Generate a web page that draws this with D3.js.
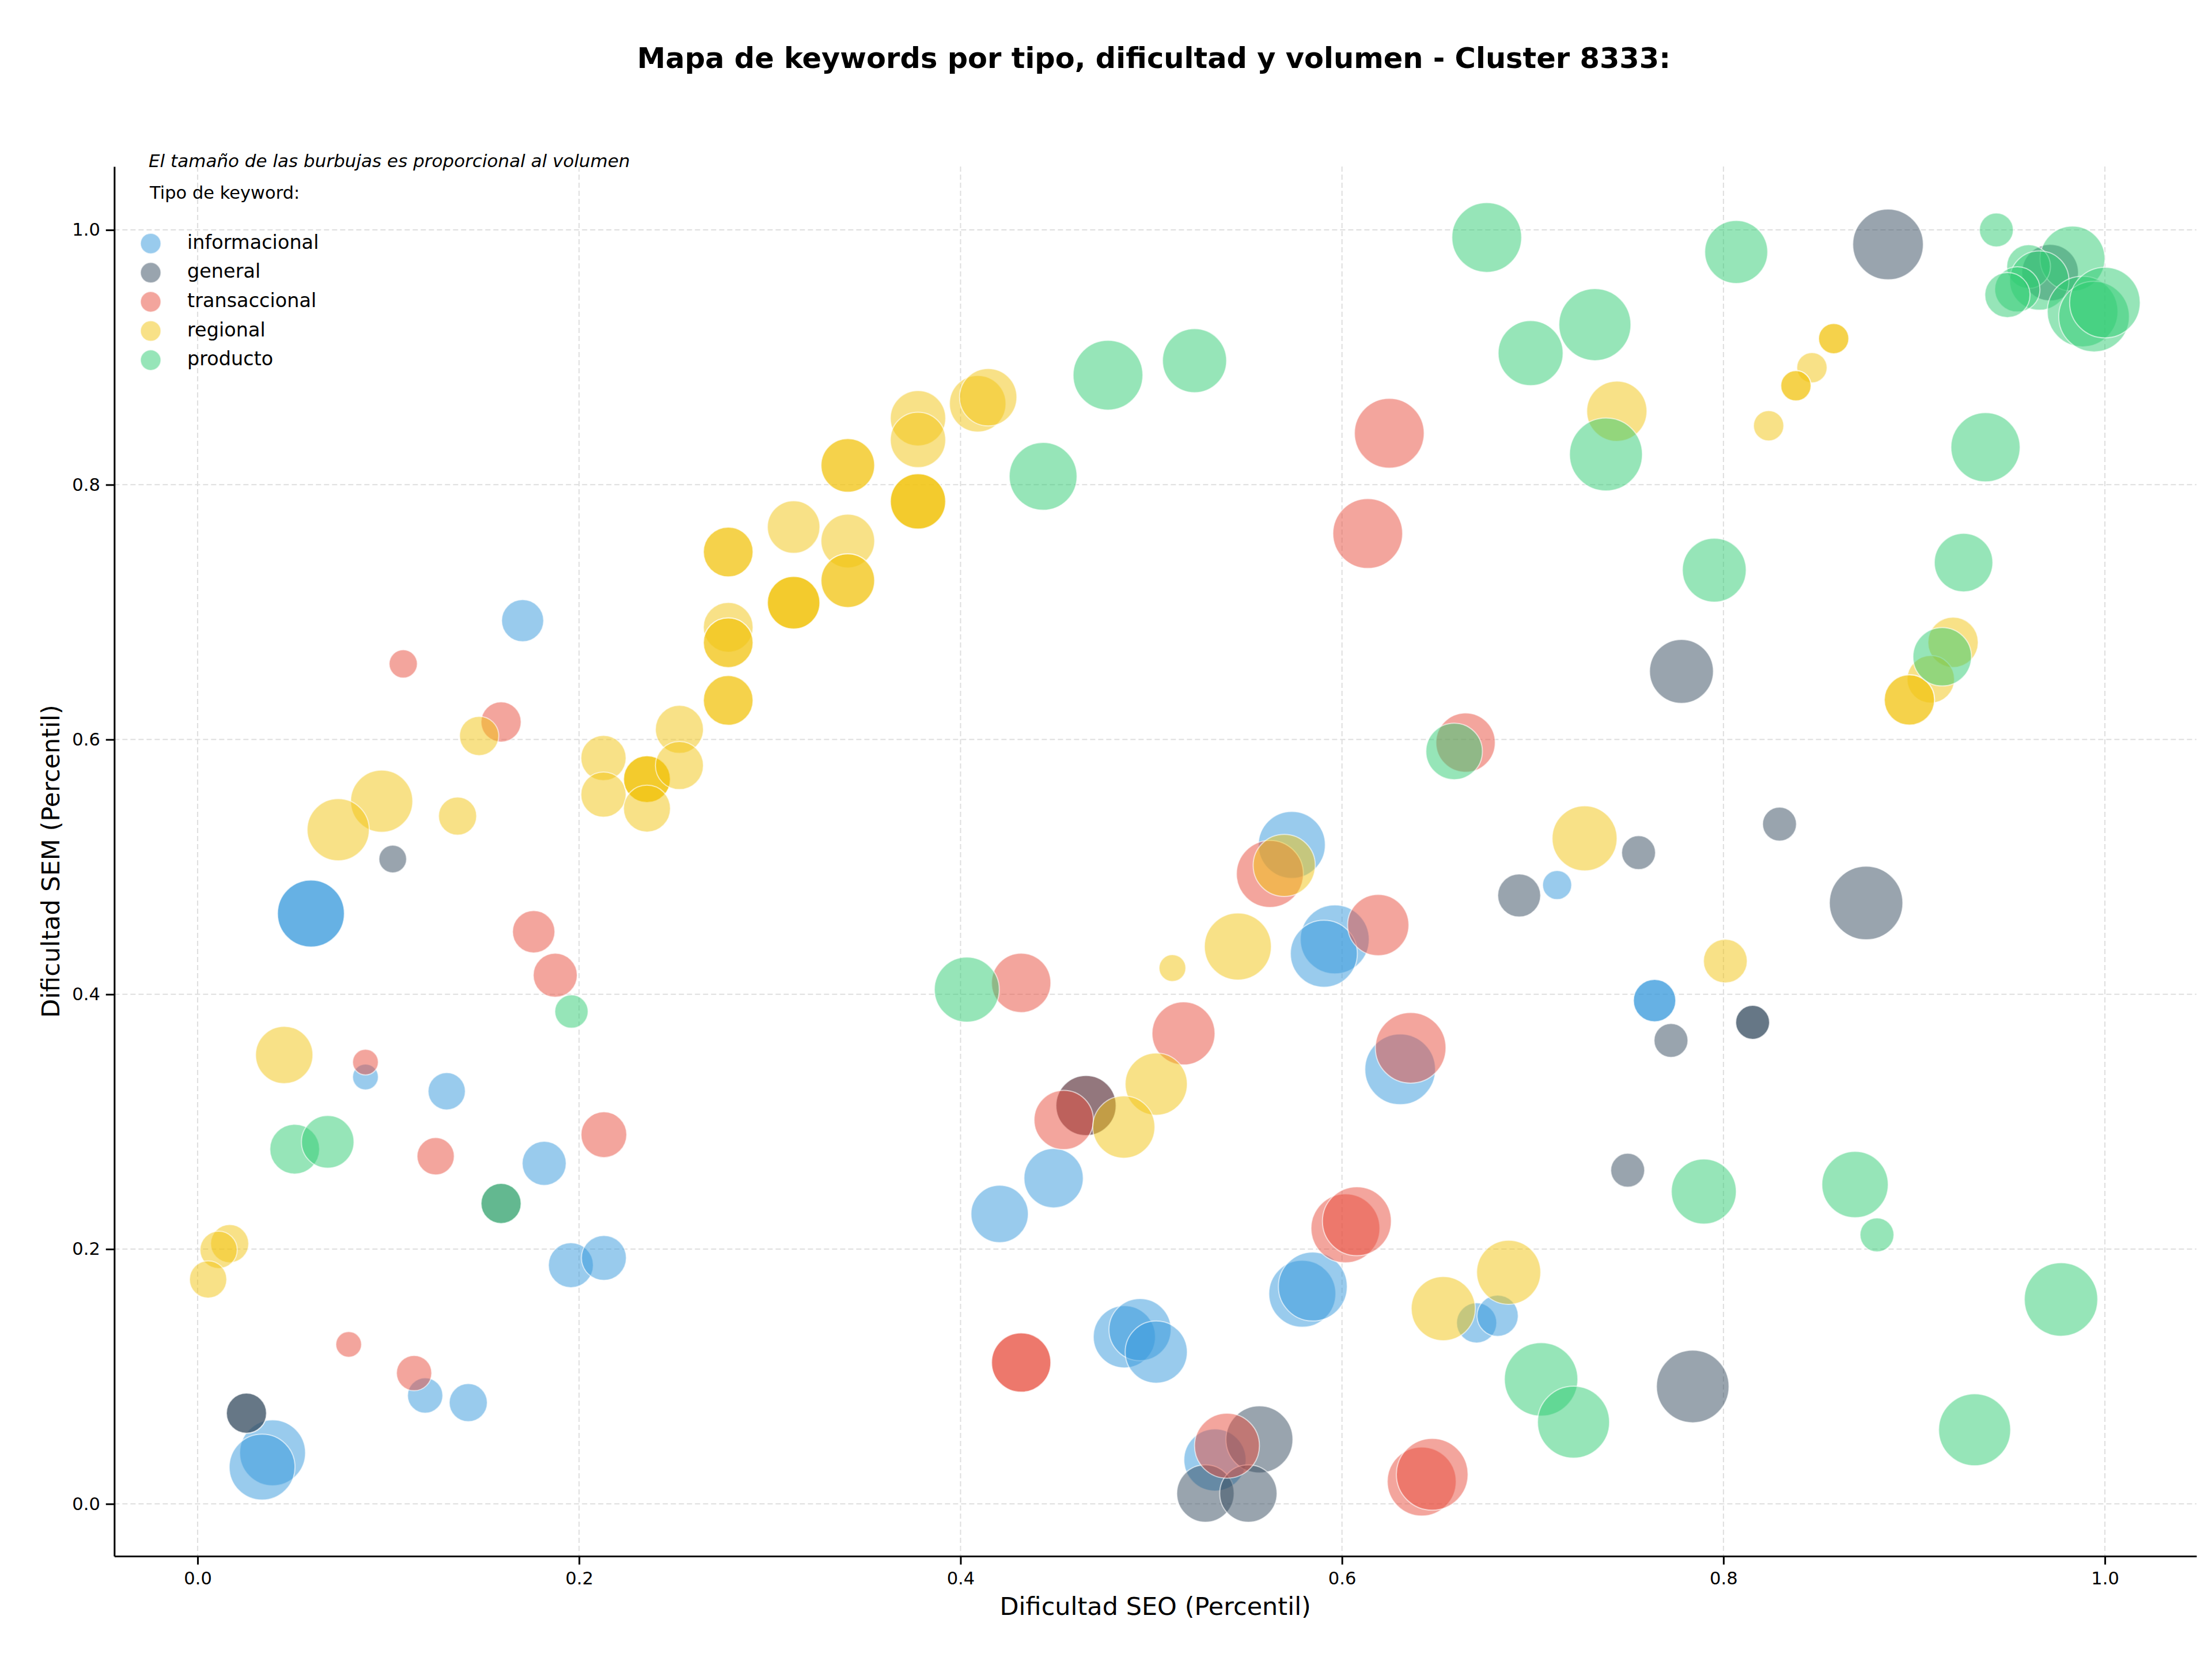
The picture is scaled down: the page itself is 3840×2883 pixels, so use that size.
<!DOCTYPE html>
<html>
<head>
<meta charset="utf-8">
<script src="https://cdn.jsdelivr.net/npm/d3@7"></script>
<style>
  html, body { margin: 0; padding: 0; background: #ffffff; }
  svg { display: block; }
</style>
</head>
<body>
<svg id="chart"></svg>
<script>
// ---------------- DATA ----------------
const tipos   = ["informacional", "general", "transaccional", "regional", "producto"];
const colores = ["#3498db", "#34495e", "#e74c3c", "#f1c40f", "#2ecc71"];
const xTicks  = [0.0, 0.2, 0.4, 0.6, 0.8, 1.0];
const yTicks  = [0.0, 0.2, 0.4, 0.6, 0.8, 1.0];
const titulo  = "Mapa de keywords por tipo, dificultad y volumen - Cluster 8333:";
const nota    = "El tamaño de las burbujas es proporcional al volumen";
const tituloLeyenda = "Tipo de keyword:";
const etiquetaX = "Dificultad SEO (Percentil)";
const etiquetaY = "Dificultad SEM (Percentil)";

// one entry per keyword, in drawing order (index into tipos)
const tipo = [
  0,0,0,0,0,0,0,0,0,0,0,0,0,0,0,0,0,0,0,0,0,0,0,0,0,0,0,0,0,
  2,
  1,1,1,1,1,1,1,1,1,1,1,1,1,1,1,1,1,1,1,1,
  2,2,2,2,2,2,2,2,2,2,2,2,2,2,2,2,2,2,2,2,2,2,2,2,2,
  3,3,3,3,3,3,3,3,3,3,3,3,3,3,3,3,3,3,3,3,3,3,3,3,3,3,3,3,3,3,
  3,3,3,3,3,3,3,3,3,3,3,3,3,3,3,3,3,3,3,3,3,3,3,3,3,3,3,3,3,
  4,4,4,4,4,4,4,4,4,4,4,4,4,4,4,4,4,4,4,4,4,4,4,4,4,4,4,4,4,4,4,4,4,4
];
const seo = [
  0.1704,0.0594,0.0594,0.0880,0.1306,0.1817,0.1957,0.2130,0.1193,0.1419,0.0393,0.0338,0.4205,0.4488,0.5737,
  0.5962,0.5905,0.4859,0.4941,0.5026,0.5792,0.5847,0.6706,0.6816,0.5334,0.6305,0.7128,0.7639,0.7639,
  0.4658,
  0.1023,0.0256,0.0256,0.1591,0.4658,0.5567,0.5284,0.5509,0.6929,0.7555,0.8294,0.8748,0.7725,0.8153,0.8153,
  0.7498,0.7839,0.7780,0.8863,0.9713,
  0.1078,0.1591,0.1762,0.1875,0.0880,0.1248,0.2130,0.0792,0.1135,0.4318,0.5169,0.4541,0.4318,0.4318,0.5622,
  0.6190,0.6360,0.6018,0.6078,0.5397,0.6418,0.6473,0.6248,0.6135,0.6648,
  0.1476,0.2128,0.2128,0.2356,0.2356,0.2356,0.2356,0.2526,0.2526,0.2782,0.2782,0.2782,0.2782,0.2782,0.2782,
  0.2782,0.3125,0.3125,0.3125,0.3125,0.3409,0.3409,0.3409,0.3409,0.3409,0.3777,0.3777,0.3777,0.3777,0.3777,
  0.4090,0.4145,0.0965,0.0737,0.1363,0.0454,0.0168,0.0110,0.0055,0.5697,0.5454,0.5111,0.5026,0.4856,0.6531,
  0.6874,0.7272,0.8010,0.7441,0.8578,0.8578,0.8464,0.8380,0.8380,0.8237,0.9204,0.9087,0.8975,0.8975,
  0.1960,0.0509,0.0682,0.1591,0.4033,0.4433,0.4773,0.5227,0.6759,0.6989,0.7326,0.7384,0.7952,0.6588,0.8067,
  0.9431,0.9830,0.9600,0.9656,0.9541,0.9489,0.9883,0.9943,1.0000,0.9374,0.9259,0.9147,0.7897,0.8690,0.8805,
  0.9770,0.7044,0.7214,0.9317
];
const sem = [
  0.6933,0.4634,0.4634,0.3351,0.3239,0.2673,0.1874,0.1931,0.0851,0.0795,0.0401,0.0289,0.2276,0.2557,0.5173,
  0.4431,0.4319,0.1312,0.1368,0.1192,0.1650,0.1706,0.1421,0.1477,0.0345,0.3411,0.4858,0.3951,0.3951,
  0.3127,
  0.5062,0.0712,0.0712,0.2358,0.3127,0.0506,0.0082,0.0082,0.4776,0.5112,0.5336,0.4717,0.3638,0.3780,0.3780,
  0.2619,0.0922,0.6535,0.9886,0.9665,
  0.6594,0.6138,0.4491,0.4150,0.3468,0.2729,0.2898,0.1252,0.1027,0.4090,0.3693,0.3014,0.1110,0.1110,0.4945,
  0.4544,0.3580,0.2163,0.2219,0.0457,0.0176,0.0232,0.8404,0.7617,0.5976,
  0.6028,0.5855,0.5568,0.5689,0.5689,0.5689,0.5458,0.6080,0.5796,0.7472,0.7472,0.6881,0.6760,0.6760,0.6307,
  0.6307,0.7668,0.7074,0.7074,0.7074,0.8152,0.8152,0.7558,0.7247,0.7247,0.8522,0.8352,0.7869,0.7869,0.7869,
  0.8636,0.8687,0.5516,0.5292,0.5399,0.3524,0.2043,0.1994,0.1762,0.5012,0.4375,0.4206,0.3295,0.2958,0.1533,
  0.1818,0.5224,0.4261,0.8577,0.9147,0.9147,0.8919,0.8777,0.8777,0.8463,0.6763,0.6473,0.6311,0.6311,
  0.3865,0.2785,0.2842,0.2358,0.4037,0.8066,0.8860,0.8974,0.9941,0.9033,0.9257,0.8238,0.7330,0.5907,0.9827,
  1.0000,0.9775,0.9713,0.9603,0.9534,0.9489,0.9360,0.9320,0.9430,0.8294,0.7389,0.6650,0.2452,0.2507,0.2112,
  0.1605,0.0978,0.0642,0.0582
];
const volumen = [
  2220,5620,5620,830,1740,2430,2530,2530,1560,1820,5430,5430,4120,4410,5620,
  5950,5620,4840,4840,4840,5620,5950,2020,2130,4840,6250,1060,2250,2250,
  4540,
  960,2020,2020,2020,4540,5620,4120,4120,2310,1440,1440,6760,1440,1440,1440,
  1440,6600,5110,6250,4000,
  1000,2020,2250,2430,830,1740,2620,830,1560,4410,4970,4410,4410,4410,5620,
  4710,6250,5950,5950,5290,5950,6450,6100,6100,4410,
  1930,2560,2560,2760,2760,2760,2760,2890,2890,3100,3100,3100,3100,3100,3100,
  3100,3460,3460,3460,3460,3610,3610,3610,3610,3610,3840,3840,3840,3840,3840,
  4000,4120,4840,4840,1820,4120,1820,1740,1740,4840,5620,900,4840,4840,5150,
  5150,5290,2400,4540,1150,1150,1150,1150,1150,1150,3170,2820,3170,3170,
  1390,3100,3460,2020,5290,5760,6100,5150,6100,5290,6500,6660,5110,4000,4970,
  1440,5290,2400,4410,2560,2560,6250,6250,6250,6000,4290,4290,5290,5520,1440,
  6760,6760,6500,6500
];

// ---------------- LAYOUT ----------------
const W = 3840, H = 2883;
const plot = { left: 198.4, right: 3813, top: 289, bottom: 2701 };
const FONT = "'DejaVu Sans', 'Liberation Sans', sans-serif";

const svg = d3.select("#chart").attr("width", W).attr("height", H)
  .attr("viewBox", `0 0 ${W} ${H}`);
svg.append("rect").attr("width", W).attr("height", H).attr("fill", "#ffffff");

const x = d3.scaleLinear().domain([-0.0437, 1.048]).range([plot.left, plot.right]);
const y = d3.scaleLinear().domain([-0.041, 1.0498]).range([plot.bottom, plot.top]);
const r = d3.scaleSqrt().domain([0, 6760]).range([0, 63.7]);

// grid
const grid = svg.append("g");
grid.selectAll("line.vx").data(xTicks).join("line")
  .attr("x1", d => x(d)).attr("x2", d => x(d))
  .attr("y1", plot.top).attr("y2", plot.bottom)
  .attr("stroke", "#dedede").attr("stroke-width", 2).attr("stroke-dasharray", "9,5");
grid.selectAll("line.hy").data(yTicks).join("line")
  .attr("y1", d => y(d)).attr("y2", d => y(d))
  .attr("x1", plot.left).attr("x2", plot.right)
  .attr("stroke", "#dedede").attr("stroke-width", 2).attr("stroke-dasharray", "9,5");

// bubbles
const pts = tipo.map((t, i) => ({ t, sx: seo[i], sy: sem[i], v: volumen[i] }));
svg.append("g").selectAll("circle").data(pts).join("circle")
  .attr("cx", d => x(d.sx))
  .attr("cy", d => y(d.sy))
  .attr("r", d => r(d.v))
  .attr("fill", d => colores[d.t])
  .attr("fill-opacity", 0.5)
  .attr("stroke", "#ffffff")
  .attr("stroke-opacity", 0.6)
  .attr("stroke-width", 2);

// axes
const xAxis = svg.append("g").attr("transform", `translate(0,${plot.bottom})`)
  .call(d3.axisBottom(x).tickValues(xTicks).tickFormat(d3.format(".1f"))
    .tickSize(14.6).tickSizeOuter(0).tickPadding(12.4));
const yAxis = svg.append("g").attr("transform", `translate(${plot.left},0)`)
  .call(d3.axisLeft(y).tickValues(yTicks).tickFormat(d3.format(".1f"))
    .tickSize(14.6).tickSizeOuter(0).tickPadding(9.8));
[xAxis, yAxis].forEach(a => {
  a.attr("font-family", FONT).attr("font-size", 30.6);
  a.select(".domain").attr("stroke", "#000").attr("stroke-width", 3);
  a.selectAll(".tick line").attr("stroke", "#000").attr("stroke-width", 3);
  a.selectAll(".tick text").attr("fill", "#000");
});

// axis labels
svg.append("text").attr("x", (plot.left + plot.right) / 2).attr("y", 2803)
  .attr("text-anchor", "middle").attr("font-family", FONT).attr("font-size", 43)
  .attr("fill", "#000").text(etiquetaX);
svg.append("text")
  .attr("transform", `translate(103,${(plot.top + plot.bottom) / 2}) rotate(-90)`)
  .attr("text-anchor", "middle").attr("font-family", FONT).attr("font-size", 43)
  .attr("fill", "#000").text(etiquetaY);

// title
svg.append("text").attr("x", 2003).attr("y", 118)
  .attr("text-anchor", "middle").attr("font-family", FONT).attr("font-size", 49.5)
  .attr("font-weight", "bold").attr("fill", "#000").text(titulo);

// note + legend
svg.append("text").attr("x", 258).attr("y", 290)
  .attr("font-family", FONT).attr("font-size", 31).attr("font-style", "italic")
  .attr("fill", "#000").text(nota);
svg.append("text").attr("x", 260).attr("y", 345)
  .attr("font-family", FONT).attr("font-size", 30.5)
  .attr("fill", "#000").text(tituloLeyenda);

const leg = svg.append("g").selectAll("g").data(tipos).join("g")
  .attr("transform", (d, i) => `translate(261.6,${422.7 + i * 50.6})`);
leg.append("circle").attr("r", 17.8)
  .attr("fill", (d, i) => colores[i]).attr("fill-opacity", 0.5)
  .attr("stroke", "#ffffff").attr("stroke-opacity", 0.6).attr("stroke-width", 2);
leg.append("text").attr("x", 63.4).attr("y", 9)
  .attr("font-family", FONT).attr("font-size", 33.5).attr("fill", "#000")
  .text(d => d);
</script>
</body>
</html>
